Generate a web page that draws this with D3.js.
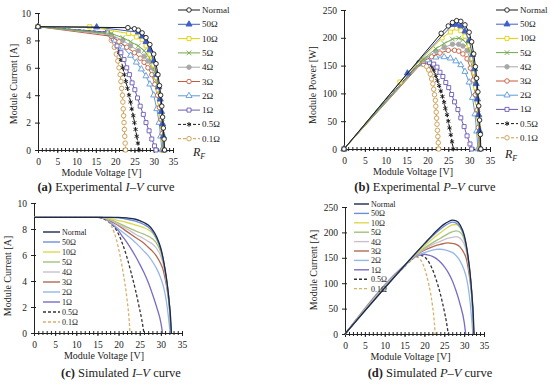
<!DOCTYPE html>
<html>
<head>
<meta charset="utf-8">
<script src="https://cdn.jsdelivr.net/npm/d3@7"></script>
<style>
  body { margin: 0; background: #fff; }
</style>
</head>
<body>
<svg width="550" height="384"></svg>
<script>
// fault resistance labels
const labels = ["Normal", "50Ω", "10Ω", "5Ω", "4Ω", "3Ω", "2Ω", "1Ω", "0.5Ω", "0.1Ω"];
const xTicks = [0, 5, 10, 15, 20, 25, 30, 35];
const iTicks = [0, 2, 4, 6, 8, 10];
const pTicks = [0, 50, 100, 150, 200, 250];

// experimental I-V points [V, I]
const expNormal = [[0,9.0],[23.3,8.93],[25,8.85],[26,8.75],[27,8.55],[28,8.2],[29,7.7],[30,7.0],[30.6,6.3],[31.1,5.5],[31.5,4.7],[31.8,4.0],[32.1,3.2],[32.3,2.4],[32.5,1.6],[32.7,0.8],[32.8,0]];
const exp50 = [[0,9.0],[15.2,8.97],[26,8.6],[27,8.3],[28,7.9],[29,7.3],[30,6.5],[30.8,5.5],[31.3,4.6],[31.7,3.7],[32,2.8],[32.3,1.9],[32.5,1.0],[32.7,0]];
const exp10 = [[0,9.0],[13.4,9.0],[23.5,8.5],[25.5,8.25],[27,8.05],[28,7.6],[29,7.0],[30,6.2],[30.7,5.3],[31.2,4.4],[31.6,3.5],[32,2.6],[32.3,1.7],[32.5,0.8],[32.6,0]];
const exp5 = [[0,9.0],[19,8.5],[22,8.2],[24,7.9],[26,7.6],[27.5,7.25],[28.5,6.9],[29.5,6.4],[30.3,5.7],[31,4.8],[31.5,3.9],[31.9,3.0],[32.2,2.0],[32.4,1.0],[32.5,0]];
const exp4 = [[0,9.0],[19,8.4],[22,8.0],[24,7.6],[26,7.25],[27.5,6.85],[28.5,6.5],[29.5,6.0],[30.3,5.3],[31,4.5],[31.5,3.6],[31.9,2.7],[32.2,1.8],[32.4,0.9],[32.5,0]];
const exp3 = [[0,9.0],[19,8.3],[21,7.9],[23,7.5],[25,7.1],[26.5,6.7],[27.5,6.4],[28.5,6.0],[29.5,5.5],[30.3,4.8],[31,4.0],[31.5,3.1],[31.9,2.2],[32.2,1.2],[32.4,0]];
const exp2 = [[0,9.0],[18,8.5],[20,8.0],[22,7.5],[24,6.9],[25.5,6.4],[26.8,5.9],[28,5.4],[29,4.8],[30,4.0],[30.8,3.0],[31.4,2.0],[31.8,1.0],[32.1,0]];
const exp1 = [[0,9.0],[18,8.6],[19.5,8.1],[20.5,7.6],[21.5,7.1],[22.3,6.6],[23,6.0],[23.7,5.5],[24.4,4.9],[25.1,4.4],[25.8,3.8],[26.5,3.2],[27.3,2.6],[28,2.0],[28.8,1.4],[29.5,0.8],[30.2,0.3],[30.6,0]];
const exp05 = [[0,9.0],[18,8.6],[19.5,8.1],[20.5,7.6],[21,7.1],[21.5,6.6],[22,6.0],[22.4,5.5],[22.8,5.0],[23.2,4.5],[23.6,4.0],[24,3.5],[24.3,3.0],[24.7,2.5],[25,2.0],[25.3,1.5],[25.6,1.0],[25.9,0.5],[26.2,0]];
const exp01 = [[0,9.0],[18,8.5],[19,8.0],[19.8,7.5],[20.3,7.0],[20.7,6.5],[21,6.0],[21.3,5.5],[21.5,5.0],[21.7,4.5],[21.9,4.0],[22.0,3.5],[22.1,3.0],[22.2,2.5],[22.3,2.0],[22.4,1.5],[22.5,1.0],[22.6,0.5],[22.7,0]];

// simulated I-V points [V, I]
const simNormal = [[0,8.9],[20,8.9],[22,8.85],[24,8.75],[25,8.65],[26,8.5],[27,8.3],[28,7.95],[29,7.4],[30,6.5],[30.5,5.8],[31,4.9],[31.5,3.8],[32,2.3],[32.3,1.2],[32.5,0]];
const sim50 = [[0,8.9],[18,8.9],[20,8.85],[22,8.75],[24,8.6],[26,8.35],[27,8.15],[28,7.8],[29,7.25],[30,6.4],[30.5,5.7],[31,4.8],[31.5,3.7],[32,2.2],[32.2,1.3],[32.4,0]];
const sim10 = [[0,8.9],[16,8.9],[18,8.8],[20,8.65],[22,8.5],[24,8.3],[26,8.1],[27,7.95],[28,7.7],[29,7.2],[30,6.4],[30.5,5.7],[31,4.8],[31.5,3.7],[32,2.2],[32.2,1.3],[32.4,0]];
const sim5 = [[0,8.9],[16,8.9],[18,8.75],[20,8.45],[22,8.15],[24,7.85],[26,7.6],[27,7.45],[28,7.25],[29,6.9],[30,6.2],[30.5,5.6],[31,4.75],[31.5,3.65],[32,2.2],[32.2,1.3],[32.4,0]];
const sim4 = [[0,8.9],[16,8.9],[18,8.7],[20,8.35],[22,8.0],[24,7.6],[26,7.25],[27,7.05],[28,6.85],[29,6.5],[30,5.9],[30.5,5.4],[31,4.6],[31.5,3.6],[32,2.1],[32.2,1.2],[32.4,0]];
const sim3 = [[0,8.9],[16,8.9],[18,8.65],[20,8.25],[22,7.8],[24,7.35],[26,6.9],[27,6.6],[28,6.3],[29,5.9],[30,5.3],[30.5,4.9],[31,4.2],[31.5,3.3],[32,2.0],[32.2,1.1],[32.35,0]];
const sim2 = [[0,8.9],[16,8.9],[18,8.55],[20,8.0],[22,7.5],[23,7.25],[24,6.95],[26,6.3],[27,5.95],[28,5.5],[29,4.95],[30,4.2],[30.5,3.7],[31,3.0],[31.5,2.0],[32,0.6],[32.2,0]];
const sim1 = [[0,8.9],[15,8.9],[17,8.75],[18,8.5],[19,8.2],[20,7.85],[21,7.4],[22,6.95],[23,6.45],[24,5.9],[25,5.3],[26,4.65],[27,3.9],[28,3.0],[29,2.0],[30,0.8],[30.4,0]];
const sim05 = [[0,8.9],[15,8.9],[17,8.7],[18,8.5],[19,8.15],[20,7.6],[21,6.8],[22,5.8],[23,4.6],[24,3.3],[25,1.8],[25.5,1.0],[26,0]];
const sim01 = [[0,8.9],[15,8.9],[16,8.85],[17,8.7],[18,8.4],[19,7.7],[20,6.5],[21,4.8],[22,2.6],[22.5,1.0],[22.7,0]];

const expSeries = [expNormal, exp50, exp10, exp5, exp4, exp3, exp2, exp1, exp05, exp01];
const simSeries = [simNormal, sim50, sim10, sim5, sim4, sim3, sim2, sim1, sim05, sim01];

const expColors = ["#1a1a1a", "#3f5fc8", "#e3d200", "#72a94a", "#a8a8a8", "#c65a3c", "#5d9ad8", "#6a5bb8", "#1a1a1a", "#c99a48"];
const simColors = ["#1f2a4c", "#6f90d8", "#dcd84e", "#a3c27c", "#cbbfcf", "#b26a52", "#94b6ea", "#7a6cc2", "#333333", "#d9b06a"];
const expSymbols = [d3.symbolCircle, d3.symbolTriangle, d3.symbolSquare, d3.symbolTimes, d3.symbolCircle, d3.symbolCircle, d3.symbolTriangle, d3.symbolSquare, d3.symbolAsterisk, d3.symbolCircle];
const expFilled = [false, true, false, false, true, false, false, false, false, false];
const dashed = [false, false, false, false, false, false, false, false, true, true];

const serif = "'Liberation Serif', 'Times New Roman', 'DejaVu Serif', serif";
const svg = d3.select("svg");

function drawPanel(o) {
  const x = d3.scaleLinear().domain([0, 35]).range([o.x0, o.x1]);
  const y = d3.scaleLinear().domain([0, o.ymax]).range([o.y0, o.y1]);
  const g = svg.append("g");

  // minor x ticks crossing the axis
  g.append("g").attr("transform", `translate(0,${o.y0})`)
    .call(d3.axisBottom(x).tickValues(d3.range(0, 36, 1)).tickSize(2).tickFormat(""));
  g.append("g").attr("transform", `translate(0,${o.y0})`)
    .call(d3.axisTop(x).tickValues(d3.range(0, 36, 1)).tickSize(2).tickFormat(""));
  const xa = g.append("g").attr("transform", `translate(0,${o.y0})`)
    .call(d3.axisBottom(x).tickValues(xTicks).tickSize(3).tickPadding(5));
  xa.selectAll("text").style("font-size", "9.5px");

  const ya = g.append("g").attr("transform", `translate(${o.x0},0)`)
    .call(d3.axisLeft(y).tickValues(o.yTicks).tickSize(3).tickPadding(4));
  ya.selectAll("text").style("font-size", "9.5px");
  g.append("g").attr("transform", `translate(${o.x0},0)`)
    .call(d3.axisRight(y).tickValues(o.yTicks).tickSize(2).tickFormat(""));
  g.selectAll(".domain").attr("stroke", "#222");
  g.selectAll(".tick line").attr("stroke", "#222");

  const line = d3.line().x(d => x(d[0])).y(d => y(d[1]));
  if (o.smooth) line.curve(d3.curveMonotoneX);

  const order = d3.range(o.series.length).reverse();
  order.forEach(k => {
    const pts = o.series[k].map(p => [p[0], o.power ? p[0] * p[1] : p[1]]);
    g.append("path").datum(pts)
      .attr("fill", "none")
      .attr("stroke", o.colors[k])
      .attr("stroke-width", o.smooth ? 1.3 : 1)
      .attr("stroke-dasharray", dashed[k] ? "3,2" : null)
      .attr("d", line);
    if (o.markers) {
      g.selectAll(null).data(pts).enter().append("path")
        .attr("transform", d => `translate(${x(d[0])},${y(d[1])})`)
        .attr("d", d3.symbol().type(expSymbols[k]).size(16))
        .attr("fill", expFilled[k] ? o.colors[k] : "#fff")
        .attr("stroke", o.colors[k])
        .attr("stroke-width", 0.9);
    }
  });

  // legend
  labels.forEach((lab, k) => {
    const ly = o.legY + k * o.legStep;
    const lg = g.append("g");
    lg.append("line")
      .attr("x1", o.legX).attr("x2", o.legX + o.legLen)
      .attr("y1", ly).attr("y2", ly)
      .attr("stroke", o.colors[k])
      .attr("stroke-width", o.smooth ? 1.4 : 1)
      .attr("stroke-dasharray", dashed[k] ? "3,2" : null);
    if (o.markers) {
      lg.append("path")
        .attr("transform", `translate(${o.legX + o.legLen / 2},${ly})`)
        .attr("d", d3.symbol().type(expSymbols[k]).size(16))
        .attr("fill", expFilled[k] ? o.colors[k] : "#fff")
        .attr("stroke", o.colors[k]).attr("stroke-width", 0.9);
    }
    lg.append("text").attr("x", o.legX + o.legLen + 2).attr("y", ly + 3)
      .style("font-size", o.legFont + "px").text(lab);
  });

  // axis titles
  g.append("text").attr("x", (o.x0 + o.x1) / 2 - 4).attr("y", o.y0 + 26)
    .attr("text-anchor", "middle").style("font-size", "10px").text("Module Voltage [V]");
  g.append("text")
    .attr("transform", `translate(${o.yTitleX},${o.yTitleY}) rotate(-90)`)
    .attr("text-anchor", "middle").style("font-size", "10px").text(o.yTitle);

  // caption
  const cap = g.append("text").attr("x", o.capX).attr("y", o.capY)
    .attr("text-anchor", "middle").style("font-size", "12.5px");
  cap.append("tspan").style("font-weight", "bold").text("(" + o.letter + ") ");
  cap.append("tspan").text(o.capText + " ");
  cap.append("tspan").style("font-style", "italic").text(o.capVar);
  cap.append("tspan").text(" curve");

  if (o.rf) {
    const rf = g.append("text").attr("x", o.rf[0]).attr("y", o.rf[1]).style("font-size", "12px");
    rf.append("tspan").style("font-style", "italic").text("R");
    rf.append("tspan").attr("dy", 3).style("font-size", "8px").style("font-style", "italic").text("F");
  }
}

drawPanel({ x0: 38, x1: 173, y0: 150, y1: 13, ymax: 10, yTicks: iTicks, series: expSeries, colors: expColors,
  markers: true, power: false, smooth: false, legX: 178, legY: 10, legStep: 14.3, legLen: 22, legFont: 9,
  yTitle: "Module Current [A]", yTitleX: 17, yTitleY: 84, letter: "a", capText: "Experimental", capVar: "I–V",
  capX: 106, capY: 191, rf: [193, 156] });
drawPanel({ x0: 344, x1: 490, y0: 149, y1: 10, ymax: 250, yTicks: pTicks, series: expSeries, colors: expColors,
  markers: true, power: true, smooth: false, legX: 496, legY: 10, legStep: 14.2, legLen: 22, legFont: 9,
  yTitle: "Module Power [W]", yTitleX: 316, yTitleY: 85, letter: "b", capText: "Experimental", capVar: "P–V",
  capX: 425, capY: 191, rf: [505, 158] });
drawPanel({ x0: 34, x1: 182, y0: 333, y1: 203, ymax: 10, yTicks: iTicks, series: simSeries, colors: simColors,
  markers: false, power: false, smooth: true, legX: 43, legY: 232, legStep: 10, legLen: 17, legFont: 8,
  yTitle: "Module Current [A]", yTitleX: 11, yTitleY: 276, letter: "c", capText: "Simulated", capVar: "I–V",
  capX: 121, capY: 377 });
drawPanel({ x0: 345, x1: 484, y0: 334, y1: 207, ymax: 250, yTicks: pTicks, series: simSeries, colors: simColors,
  markers: false, power: true, smooth: true, legX: 354, legY: 204, legStep: 9.4, legLen: 15, legFont: 8,
  yTitle: "Module Current [A]", yTitleX: 317, yTitleY: 270, letter: "d", capText: "Simulated", capVar: "P–V",
  capX: 430, capY: 377 });

// serif type for every label, overriding the axis default
svg.selectAll("text").style("font-family", serif).style("fill", "#222");
</script>
</body>
</html>
